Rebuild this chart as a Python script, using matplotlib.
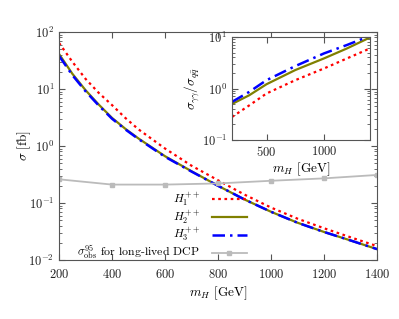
import matplotlib
matplotlib.use("Agg")
import matplotlib.pyplot as plt
from matplotlib.ticker import LogLocator, NullFormatter

plt.rcParams['mathtext.fontset'] = 'cm'
plt.rcParams['font.family'] = 'serif'
plt.rcParams['font.serif'] = ['cmr10']
plt.rcParams['axes.formatter.use_mathtext'] = True
plt.rcParams['axes.unicode_minus'] = False

# Main panel data
mass = [200, 250, 300, 350, 400, 450, 500, 600, 700, 800, 900, 1000, 1100, 1200, 1300, 1400]
sigma_H1 = [64, 30, 15, 8.5, 5.2, 3.1, 1.95, 0.9, 0.45, 0.25, 0.14, 0.083, 0.053, 0.036, 0.025, 0.0175]
sigma_H2 = [41, 18.5, 9.5, 5.3, 3.1, 2.0, 1.35, 0.66, 0.36, 0.20, 0.115, 0.07, 0.045, 0.031, 0.022, 0.0155]
sigma_H3 = [38, 17.5, 9.1, 5.1, 3.0, 1.95, 1.32, 0.645, 0.355, 0.20, 0.115, 0.07, 0.045, 0.031, 0.022, 0.0155]

mass_obs = [200, 400, 600, 800, 1000, 1200, 1400]
sigma_obs = [0.26, 0.21, 0.21, 0.22, 0.245, 0.27, 0.31]

# Inset data
mass_in = [200, 350, 500, 750, 1000, 1200, 1400]
ratio_H1 = [0.28, 0.47, 0.80, 1.45, 2.45, 3.84, 6.0]
ratio_H2 = [0.50, 0.74, 1.21, 2.28, 3.84, 6.0, 9.8]
ratio_H3 = [0.55, 0.86, 1.45, 2.72, 4.8, 7.0, 10.5]

labels = [r'$H_1^{++}$', r'$H_2^{++}$', r'$H_3^{++}$',
          r'$\sigma^{95}_{\rm obs}$ for long-lived DCP']

red = '#ff0000'
olive = '#808000'
blue = '#0000ff'
gray = '#bbbbbb'
frame = '#555555'

fig = plt.figure(figsize=(3.99, 3.19), dpi=100)
ax = fig.add_axes([0.148, 0.185, 0.797, 0.715])

ax.plot(mass, sigma_H1, color=red, lw=1.6, ls=(0, (1.2, 1.6)), label=labels[0])
ax.plot(mass, sigma_H2, color=olive, lw=1.6, ls='-', label=labels[1])
ax.plot(mass, sigma_H3, color=blue, lw=1.8, ls=(0, (5, 2, 1, 2)), label=labels[2])
ax.plot(mass_obs, sigma_obs, color=gray, lw=1.3, marker='s', ms=3,
        label=labels[3])

ax.set_yscale('log')
ax.set_xlim(200, 1400)
ax.set_ylim(1e-2, 1e2)
ax.set_xticks([200, 400, 600, 800, 1000, 1200, 1400])
ax.yaxis.set_major_locator(LogLocator(base=10, numticks=10))
ax.yaxis.set_minor_locator(LogLocator(base=10, subs=range(2, 10), numticks=10))
ax.yaxis.set_minor_formatter(NullFormatter())
ax.tick_params(which='both', direction='in', top=True, right=True,
               labelsize=9, colors=frame, labelcolor='#222222')
ax.tick_params(which='major', length=4)
ax.tick_params(which='minor', length=2)
ax.tick_params(axis='x', pad=6)
for s in ax.spines.values():
    s.set_color(frame)
ax.set_xlabel(r'$m_H$ [GeV]', fontsize=9.5, labelpad=2)
ax.set_ylabel(r'$\sigma$ [fb]', fontsize=9.5, labelpad=-3)

leg = ax.legend(loc='lower right',
                bbox_to_anchor=(0.0, -0.01, (243 - 59 + 4) / 318.0, 1.0),
                frameon=False, markerfirst=False, fontsize=8.5,
                handlelength=3.0, labelspacing=-0.05, borderaxespad=0.0,
                handletextpad=1.0, borderpad=0.0)
for t in leg.get_texts():
    t.set_ha('right')
leg._legend_box.align = 'right'

# Inset
axin = fig.add_axes([232 / 399, 1 - 140 / 319, 138 / 399, 103 / 319])
axin.plot(mass_in, ratio_H1, color=red, lw=1.6, ls=(0, (1.2, 1.6)))
axin.plot(mass_in, ratio_H2, color=olive, lw=1.6, ls='-')
axin.plot(mass_in, ratio_H3, color=blue, lw=1.8, ls=(0, (5, 2, 1, 2)))
axin.set_yscale('log')
axin.set_xlim(200, 1400)
axin.set_ylim(0.1, 10)
axin.set_xticks([500, 1000])
axin.yaxis.set_major_locator(LogLocator(base=10, numticks=10))
axin.yaxis.set_minor_locator(LogLocator(base=10, subs=range(2, 10), numticks=10))
axin.yaxis.set_minor_formatter(NullFormatter())
axin.tick_params(which='both', direction='in', top=True, right=True,
                 labelsize=9, colors=frame, labelcolor='#222222')
axin.tick_params(which='major', length=4)
axin.tick_params(which='minor', length=2)
for s in axin.spines.values():
    s.set_color(frame)
axin.set_xlabel(r'$m_H$ [GeV]', fontsize=9.5, labelpad=1)
axin.set_ylabel(r'$\sigma_{\gamma\gamma}/\sigma_{q\bar{q}}$', fontsize=9.5, labelpad=0)

fig.savefig('out.png', dpi=100)
